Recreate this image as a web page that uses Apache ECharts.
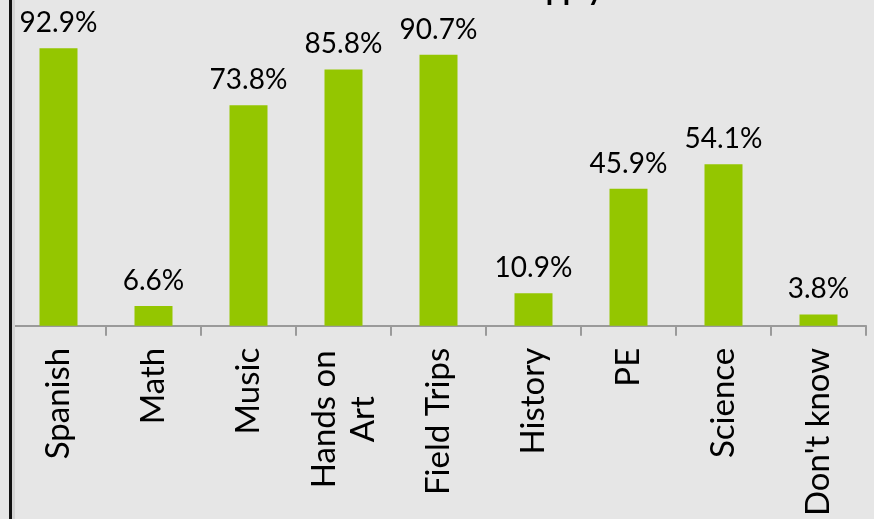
<!DOCTYPE html>
<html>
<head>
<meta charset="utf-8">
<script src="https://cdn.jsdelivr.net/npm/echarts@6/dist/echarts.min.js"></script>
<style>
  html, body { margin: 0; padding: 0; background: #e6e6e6; }
  #chart { width: 874px; height: 519px; }
</style>
</head>
<body>
<div id="chart"></div>
<script>
// subjects and share of answers (%)
var categories = ['Spanish', 'Math', 'Music', 'Hands on\nArt', 'Field Trips', 'History', 'PE', 'Science', "Don't know"];
var values = [92.9, 6.6, 73.8, 85.8, 90.7, 10.9, 45.9, 54.1, 3.8];

var font = 'Lato, "Noto Sans", sans-serif';

var chart = echarts.init(document.getElementById('chart'));

var option = {
  backgroundColor: '#e6e6e6',
  animation: false,
  grid: { left: 11, right: 8, top: 27, bottom: 193 },
  xAxis: {
    type: 'category',
    data: categories,
    axisLine: { lineStyle: { color: '#9a9a9a', width: 2 } },
    axisTick: { show: true, length: 10, lineStyle: { color: '#9a9a9a', width: 2 } },
    axisLabel: {
      rotate: 90,
      margin: 22,
      interval: 0,
      color: '#000',
      fontSize: 33,
      fontFamily: font,
      lineHeight: 39,
      align: 'right',
      formatter: function (v) {
        // two-line label: lines centred on each other
        if (v.indexOf('\n') >= 0) {
          return v.split('\n').map(function (s) { return '{c|' + s + '}'; }).join('\n');
        }
        return v;
      },
      rich: {
        c: { width: 143, align: 'center', fontSize: 33, fontFamily: font, color: '#000', lineHeight: 39 }
      }
    }
  },
  yAxis: {
    type: 'value',
    min: 0,
    max: 100,
    show: false,
    splitLine: { show: false }
  },
  series: [{
    type: 'bar',
    data: values,
    barWidth: 38,
    itemStyle: { color: '#94c600' },
    label: {
      show: true,
      position: 'top',
      distance: 11,
      color: '#000',
      fontSize: 28,
      fontFamily: font,
      formatter: function (p) { return p.value.toFixed(1) + '%'; }
    }
  }],
  graphic: [
    {
      type: 'rect',
      shape: { x: 9, y: 0, width: 3, height: 519 },
      style: { fill: '#111' },
      z: 100
    },
    {
      type: 'rect',
      shape: { x: 12, y: 0, width: 3, height: 519 },
      style: { fill: '#d4d4d4' },
      z: 100
    },
    {
      type: 'text',
      x: 603,
      y: -10,
      style: {
        text: 'apply',
        font: 'bold 30px ' + font,
        fill: '#000',
        align: 'right',
        verticalAlign: 'middle'
      }
    }
  ]
};

chart.setOption(option);
</script>
</body>
</html>
